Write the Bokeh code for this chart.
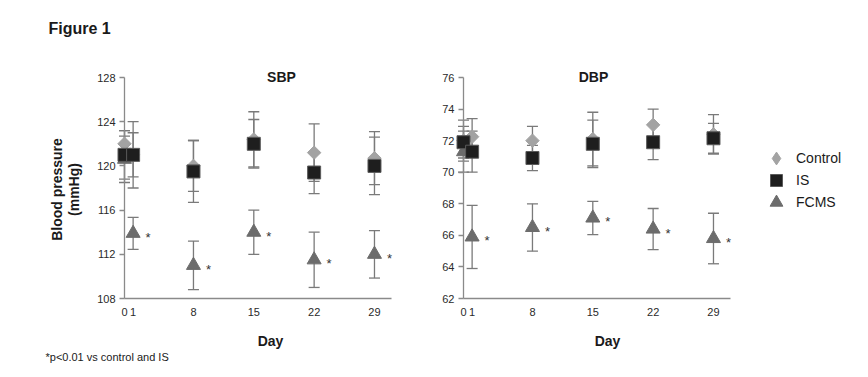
import math
from bokeh.plotting import figure
from bokeh.models import (ColumnDataSource, Whisker, TeeHead, Label, Legend, LegendItem,
                          FixedTicker, Range1d, LinearAxis)
from bokeh.embed import file_html
from bokeh.resources import INLINE
from bokeh.core.properties import value

# ---------------- data ----------------
days = [0, 1, 8, 15, 22, 29]
x_ticks = [0, 1, 8, 15, 22, 29]
stars = ["", "*", "*", "*", "*", "*"]

sbp_ticks = [108, 112, 116, 120, 124, 128]
sbp_control = [122.0, 121.0, 120.0, 122.4, 121.2, 120.7]
sbp_control_se = [1.2, 2.0, 2.3, 2.5, 2.6, 2.4]
sbp_is = [121.0, 121.0, 119.5, 122.0, 119.4, 120.0]
sbp_is_se = [2.2, 3.0, 2.8, 2.2, 1.9, 2.6]
sbp_fcms = [120.6, 113.9, 111.0, 114.0, 111.5, 112.0]
sbp_fcms_se = [2.1, 1.45, 2.2, 2.0, 2.5, 2.15]

dbp_ticks = [62, 64, 66, 68, 70, 72, 74, 76]
dbp_control = [72.0, 72.25, 72.0, 72.1, 73.0, 72.4]
dbp_control_se = [1.3, 1.15, 0.9, 1.7, 1.0, 1.25]
dbp_is = [71.9, 71.3, 70.9, 71.8, 71.9, 72.15]
dbp_is_se = [1.0, 1.3, 0.8, 1.5, 1.1, 0.95]
dbp_fcms = [71.3, 65.9, 66.5, 67.1, 66.4, 65.8]
dbp_fcms_se = [1.3, 2.0, 1.5, 1.05, 1.3, 1.6]

series_names = ["Control", "IS", "FCMS"]

# ---------------- style / layout ----------------
FONT = "Liberation Sans"
EB = "#7a7a7a"
AX = "#8a8a8a"
C_CTRL = "#a3a3a3"
C_IS = "#1e1e1e"
C_FC = "#6c6c6c"
TXT = "#1a1a1a"

W, H = 864, 373
PXD = 8.62            # pixels per day
TOP, BOT = 77, 298    # pixel rows of the top tick and of the x axis
X_END = 31            # x axis extends to this day


def xr(x0_px):
    return Range1d(-x0_px / PXD, (W - x0_px) / PXD)


def yr(lo, hi):
    k = (BOT - TOP) / (hi - lo)
    return Range1d(lo - (H - BOT) / k, hi + TOP / k)


p = figure(width=W, height=H, x_range=xr(124), y_range=yr(sbp_ticks[0], sbp_ticks[-1]),
           x_axis_type=None, y_axis_type=None, output_backend="svg",
           toolbar_location=None, min_border=0)
p.extra_x_ranges = {"dx": xr(463)}
p.extra_y_ranges = {"dy": yr(dbp_ticks[0], dbp_ticks[-1])}
p.outline_line_color = None
p.grid.visible = False


def style_axis(ax):
    ax.axis_line_color = AX
    ax.axis_line_width = 1.3
    ax.major_tick_line_color = AX
    ax.major_tick_line_width = 1.3
    ax.minor_tick_line_color = None
    ax.major_tick_in = 0
    ax.major_label_text_font = FONT
    ax.major_label_text_font_size = "11px"
    ax.major_label_text_color = "#2a2a2a"


legend_proxies = {}


def panel(xname, yname, yticks, ctrl, ctrl_se, isv, is_se, fc, fc_se):
    ya = LinearAxis(x_range_name=xname, y_range_name=yname, fixed_location=0,
                    bounds=(yticks[0], yticks[-1]), ticker=FixedTicker(ticks=yticks))
    style_axis(ya)
    ya.major_tick_out = 5
    ya.major_label_standoff = 4
    p.add_layout(ya, "left")
    xa = LinearAxis(x_range_name=xname, y_range_name=yname, fixed_location=yticks[0],
                    bounds=(0, X_END), ticker=FixedTicker(ticks=x_ticks))
    style_axis(xa)
    xa.major_tick_out = 0
    xa.major_label_standoff = 9
    p.add_layout(xa, "below")

    for vals, se in ((ctrl, ctrl_se), (fc, fc_se), (isv, is_se)):
        src = ColumnDataSource(dict(x=days,
                                    lo=[v - e for v, e in zip(vals, se)],
                                    hi=[v + e for v, e in zip(vals, se)]))
        p.add_layout(Whisker(source=src, base="x", upper="hi", lower="lo", dimension="height",
                             x_range_name=xname, y_range_name=yname,
                             line_color=EB, line_width=1.3, level="underlay",
                             upper_head=TeeHead(size=11, line_color=EB, line_width=1.3),
                             lower_head=TeeHead(size=11, line_color=EB, line_width=1.3)))

    kw = dict(x_range_name=xname, y_range_name=yname, level="overlay")
    p.scatter(days, ctrl, marker="square", angle=math.pi / 4, size=9.5,
              fill_color=C_CTRL, line_color=C_CTRL, **kw)
    p.scatter(days, fc, marker="triangle", size=14, fill_color=C_FC, line_color=C_FC, **kw)
    p.scatter(days, isv, marker="square", size=13, fill_color=C_IS,
              line_color="#5a5a5a", line_width=1, **kw)
    p.text(days, fc, text=stars, x_offset=15, y_offset=4,
           x_range_name=xname, y_range_name=yname,
           text_font=value(FONT), text_font_size="13px", text_align="center",
           text_baseline="alphabetic", text_color="#333333")

    if not legend_proxies:
        # hidden copies used only to style the legend swatches
        legend_proxies["c"] = p.scatter(days, ctrl, marker="diamond", size=13, visible=False,
                                        fill_color=C_CTRL, line_color=C_CTRL)
        legend_proxies["i"] = p.scatter(days, isv, marker="square", size=12, visible=False,
                                        fill_color=C_IS, line_color="#5a5a5a", line_width=1)
        legend_proxies["f"] = p.scatter(days, fc, marker="triangle", size=13, visible=False,
                                        fill_color=C_FC, line_color=C_FC)


panel("default", "default", sbp_ticks, sbp_control, sbp_control_se, sbp_is, sbp_is_se,
      sbp_fcms, sbp_fcms_se)
panel("dx", "dy", dbp_ticks, dbp_control, dbp_control_se, dbp_is, dbp_is_se,
      dbp_fcms, dbp_fcms_se)


def lab(x, y, text, size, bold=False, align="center", baseline="alphabetic", angle=0.0):
    # x from left, y from bottom of the plot area (which fills the canvas)
    p.add_layout(Label(x=x, y=H - y, x_units="screen", y_units="screen", text=text,
                       text_font=FONT, text_font_size=size,
                       text_font_style="bold" if bold else "normal",
                       text_align=align, text_baseline=baseline, angle=angle,
                       text_color=TXT))


lab(48, 28, "Figure 1", "16px", bold=True, align="left")
lab(281, 76, "SBP", "14px", bold=True)
lab(593, 76, "DBP", "14px", bold=True)
lab(270, 340, "Day", "14px", bold=True)
lab(607, 340, "Day", "14px", bold=True)
lab(56, 189, "Blood pressure", "14px", bold=True, baseline="middle", angle=math.pi / 2)
lab(73.5, 189, "(mmHg)", "14px", bold=True, baseline="middle", angle=math.pi / 2)
lab(45, 356.5, "*p<0.01 vs control and IS", "11px", align="left")

leg_specs = [(series_names[0], legend_proxies["c"], 32, 158.3),
             (series_names[1], legend_proxies["i"], 30, 180.0),
             (series_names[2], legend_proxies["f"], 32, 201.7)]
for name, r, gh, cy in leg_specs:
    leg = Legend(items=[LegendItem(label=name, renderers=[r])],
                 location=(776 - 17, H - cy - gh / 2),
                 glyph_width=34, glyph_height=gh, label_height=gh, label_width=10,
                 label_standoff=3, padding=0, margin=0, spacing=0,
                 border_line_color=None, background_fill_alpha=0,
                 inactive_fill_alpha=0,
                 label_text_font=FONT, label_text_font_size="14px",
                 label_text_color=TXT)
    p.add_layout(leg)

open("out.html", "w").write(file_html(p, INLINE))
